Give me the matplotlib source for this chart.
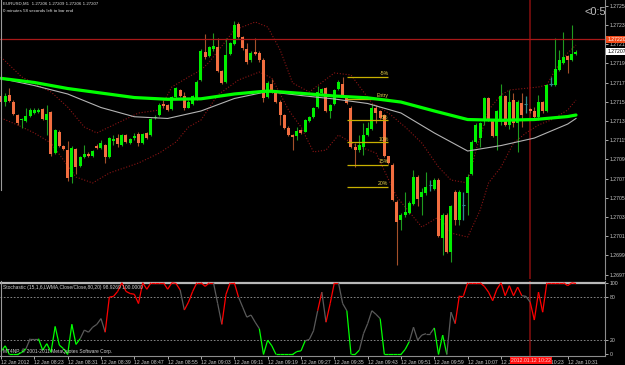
import numpy as np
import pandas as pd
import matplotlib
matplotlib.use("Agg")
import matplotlib.pyplot as plt
from matplotlib.collections import LineCollection

plt.rcParams['font.family'] = ['Liberation Sans', 'DejaVu Sans']

# EURUSD M1, 12 Jan 2012 from 08:15
start_time = "2012-01-12 08:15"
opens = [1.27161, 1.27155, 1.27162, 1.27155, 1.27141, 1.27136, 1.27135, 1.27140, 1.27143, 1.27144,
         1.27147, 1.27136, 1.27144, 1.27102, 1.27124, 1.27109, 1.27105, 1.27077, 1.27106, 1.27088,
         1.27097, 1.27101, 1.27098, 1.27109, 1.27107, 1.27110, 1.27097, 1.27114, 1.27117, 1.27110,
         1.27120, 1.27112, 1.27117, 1.27121, 1.27112, 1.27122, 1.27120, 1.27138, 1.27141, 1.27153,
         1.27152, 1.27147, 1.27160, 1.27167, 1.27161, 1.27149, 1.27153, 1.27158, 1.27178, 1.27207,
         1.27203, 1.27210, 1.27212, 1.27187, 1.27176, 1.27205, 1.27215, 1.27236, 1.27222, 1.27210,
         1.27198, 1.27207, 1.27206, 1.27199, 1.27160, 1.27174, 1.27164, 1.27155, 1.27141, 1.27128,
         1.27120, 1.27119, 1.27126, 1.27124, 1.27135, 1.27139, 1.27150, 1.27164, 1.27169, 1.27145,
         1.27153, 1.27168, 1.27174, 1.27160, 1.27149, 1.27108, 1.27105, 1.27108, 1.27120, 1.27127,
         1.27149, 1.27145, 1.27141, 1.27098, 1.27089, 1.27051, 1.27032, 1.27037, 1.27039, 1.27049,
         1.27077, 1.27056, 1.27060, 1.27068, 1.27064, 1.27073, 1.27013, 1.27037, 1.26999, 1.27061,
         1.27032, 1.27047, 1.27060, 1.27080, 1.27113, 1.27117, 1.27136, 1.27159, 1.27136, 1.27119,
         1.27136, 1.27161, 1.27131, 1.27157, 1.27133, 1.27154, 1.27153, 1.27147, 1.27145, 1.27139,
         1.27155, 1.27145, 1.27173, 1.27172, 1.27188, 1.27195, 1.27203, 1.27198, 1.27205]
highs = [1.27164, 1.27164, 1.27169, 1.27157, 1.27142, 1.27138, 1.27149, 1.27148, 1.27149, 1.27148,
         1.27149, 1.27152, 1.27145, 1.27127, 1.27126, 1.27110, 1.27114, 1.27109, 1.27107, 1.27098,
         1.27110, 1.27103, 1.27105, 1.27111, 1.27115, 1.27111, 1.27118, 1.27120, 1.27121, 1.27121,
         1.27121, 1.27117, 1.27122, 1.27124, 1.27122, 1.27123, 1.27138, 1.27141, 1.27154, 1.27157,
         1.27153, 1.27161, 1.27170, 1.27168, 1.27165, 1.27157, 1.27162, 1.27178, 1.27210, 1.27226,
         1.27213, 1.27227, 1.27221, 1.27188, 1.27221, 1.27217, 1.27239, 1.27238, 1.27224, 1.27216,
         1.27208, 1.27221, 1.27208, 1.27201, 1.27177, 1.27179, 1.27166, 1.27157, 1.27142, 1.27130,
         1.27121, 1.27129, 1.27127, 1.27137, 1.27140, 1.27150, 1.27171, 1.27169, 1.27170, 1.27153,
         1.27168, 1.27178, 1.27181, 1.27161, 1.27151, 1.27112, 1.27120, 1.27133, 1.27134, 1.27153,
         1.27152, 1.27146, 1.27142, 1.27099, 1.27091, 1.27053, 1.27039, 1.27061, 1.27052, 1.27084,
         1.27079, 1.27065, 1.27082, 1.27073, 1.27076, 1.27076, 1.27039, 1.27039, 1.27047, 1.27063,
         1.27063, 1.27061, 1.27080, 1.27115, 1.27133, 1.27134, 1.27160, 1.27160, 1.27137, 1.27146,
         1.27174, 1.27162, 1.27167, 1.27164, 1.27157, 1.27164, 1.27161, 1.27148, 1.27150, 1.27162,
         1.27156, 1.27174, 1.27181, 1.27221, 1.27209, 1.27228, 1.27204, 1.27235, 1.27209]
lows = [1.27151, 1.27151, 1.27155, 1.27141, 1.27131, 1.27128, 1.27134, 1.27139, 1.27142, 1.27143,
        1.27136, 1.27120, 1.27098, 1.27101, 1.27108, 1.27105, 1.27072, 1.27070, 1.27080, 1.27087,
        1.27096, 1.27097, 1.27097, 1.27106, 1.27106, 1.27091, 1.27096, 1.27110, 1.27108, 1.27109,
        1.27112, 1.27111, 1.27115, 1.27109, 1.27111, 1.27116, 1.27119, 1.27137, 1.27140, 1.27149,
        1.27145, 1.27146, 1.27159, 1.27160, 1.27146, 1.27148, 1.27152, 1.27157, 1.27177, 1.27200,
        1.27202, 1.27208, 1.27186, 1.27174, 1.27175, 1.27204, 1.27214, 1.27221, 1.27209, 1.27194,
        1.27196, 1.27204, 1.27196, 1.27155, 1.27159, 1.27164, 1.27154, 1.27131, 1.27127, 1.27119,
        1.27105, 1.27115, 1.27121, 1.27123, 1.27134, 1.27138, 1.27148, 1.27163, 1.27144, 1.27138,
        1.27152, 1.27167, 1.27160, 1.27153, 1.27107, 1.27087, 1.27103, 1.27100, 1.27119, 1.27126,
        1.27133, 1.27137, 1.27097, 1.27090, 1.27052, 1.26985, 1.27021, 1.27035, 1.27038, 1.27047,
        1.27046, 1.27037, 1.27058, 1.27062, 1.27063, 1.27014, 1.26995, 1.26997, 1.26988, 1.27027,
        1.27027, 1.27032, 1.27037, 1.27079, 1.27112, 1.27108, 1.27131, 1.27135, 1.27118, 1.27105,
        1.27131, 1.27130, 1.27127, 1.27129, 1.27103, 1.27129, 1.27143, 1.27143, 1.27138, 1.27136,
        1.27143, 1.27144, 1.27171, 1.27171, 1.27187, 1.27194, 1.27185, 1.27197, 1.27204]
closes = [1.27155, 1.27161, 1.27156, 1.27142, 1.27133, 1.27137, 1.27140, 1.27146, 1.27146, 1.27146,
          1.27137, 1.27142, 1.27101, 1.27126, 1.27109, 1.27106, 1.27076, 1.27107, 1.27087, 1.27097,
          1.27101, 1.27099, 1.27104, 1.27107, 1.27112, 1.27097, 1.27117, 1.27116, 1.27111, 1.27120,
          1.27113, 1.27116, 1.27119, 1.27112, 1.27121, 1.27117, 1.27137, 1.27139, 1.27152, 1.27151,
          1.27146, 1.27160, 1.27169, 1.27161, 1.27148, 1.27155, 1.27161, 1.27176, 1.27208, 1.27202,
          1.27212, 1.27213, 1.27187, 1.27175, 1.27204, 1.27216, 1.27235, 1.27222, 1.27211, 1.27196,
          1.27206, 1.27205, 1.27198, 1.27159, 1.27175, 1.27165, 1.27155, 1.27141, 1.27128, 1.27120,
          1.27118, 1.27125, 1.27122, 1.27136, 1.27139, 1.27148, 1.27165, 1.27168, 1.27145, 1.27152,
          1.27167, 1.27176, 1.27162, 1.27154, 1.27108, 1.27105, 1.27110, 1.27120, 1.27128, 1.27148,
          1.27143, 1.27138, 1.27098, 1.27091, 1.27053, 1.27030, 1.27037, 1.27040, 1.27050, 1.27077,
          1.27054, 1.27061, 1.27066, 1.27068, 1.27074, 1.27015, 1.27037, 1.26999, 1.27046, 1.27032,
          1.27061, 1.27047, 1.27077, 1.27113, 1.27131, 1.27133, 1.27159, 1.27136, 1.27119, 1.27145,
          1.27161, 1.27131, 1.27155, 1.27133, 1.27155, 1.27141, 1.27153, 1.27145, 1.27139, 1.27155,
          1.27145, 1.27172, 1.27173, 1.27189, 1.27199, 1.27202, 1.27198, 1.27205, 1.27207]

# moving averages (read at every 8th bar)
ma_bars = [0, 8, 16, 24, 32, 40, 48, 56, 64, 72, 80, 88, 96, 104, 112, 120, 128, 136, 138]
ma_slow = [1.271794, 1.271751, 1.271688, 1.271641, 1.271594, 1.271576, 1.271581, 1.271631, 1.271662,
           1.271638, 1.271610, 1.271591, 1.271547, 1.271454, 1.271365, 1.271357, 1.271365, 1.271396, 1.271412]
ma_fast = [1.271792, 1.271719, 1.271631, 1.271490, 1.271394, 1.271376, 1.271454, 1.271584, 1.271657,
           1.271615, 1.271579, 1.271532, 1.271433, 1.271225, 1.271037, 1.271094, 1.271172, 1.271318, 1.271376]

# dotted bands
upper_bars = [0, 5, 12, 16, 20, 23, 28, 33, 38, 41, 45, 48, 50, 56, 61, 64, 67, 70, 74, 80,
              84, 89, 93, 97, 101, 105, 108, 112, 114, 117, 120, 122, 129, 131, 133, 136, 138]
upper_band = [1.272016, 1.271808, 1.271652, 1.271495, 1.271287, 1.271225, 1.271329, 1.271433, 1.271464, 1.271704,
              1.271808, 1.271881, 1.271964, 1.272297, 1.272381, 1.272329, 1.272089, 1.271745, 1.271652, 1.271850,
              1.271829, 1.271537, 1.271433, 1.271287, 1.271120, 1.270870, 1.270735, 1.270704, 1.271047, 1.271464,
              1.271620, 1.271672, 1.271704, 1.271725, 1.271881, 1.272058, 1.272141]
lower_bars = [0, 4, 8, 12, 18, 22, 26, 33, 38, 42, 45, 48, 52, 57, 62, 65, 69, 72, 75, 78,
              81, 85, 90, 95, 101, 105, 108, 112, 115, 117, 120, 123, 126, 129, 132, 136, 138]
lower_band = [1.271381, 1.271308, 1.271225, 1.271120, 1.270766, 1.270704, 1.270808, 1.270912, 1.271016, 1.271131,
              1.271287, 1.271360, 1.271620, 1.271777, 1.271860, 1.271797, 1.271464, 1.271287, 1.271027, 1.271047,
              1.271204, 1.271100, 1.271016, 1.270558, 1.270245, 1.270350, 1.270183, 1.270141, 1.270422, 1.270704,
              1.270870, 1.271120, 1.271225, 1.271308, 1.271360, 1.271464, 1.271568]

# fibo levels drawn on the chart
fib_start, fib_end = 83, 93
fib_levels = [1.271813, 1.271584, 1.271355, 1.271126, 1.270896, 1.270667]
fib_labels = ["-5%", "Entry", "5%", "10%", "15%", "20%"]

# stochastic main line, and colour state of each segment (g=down zone, r=up, k=neutral)
stoch = [4, 12, 0, 0, 0, 3, 8, 22, 22, 22, 6, 15, 3, 39, 13, 8, 0, 42, 14, 22,
         34, 31, 38, 42, 50, 31, 80, 81, 88, 100, 88, 85, 84, 71, 100, 91, 100, 100, 100, 100,
         91, 100, 99, 90, 62, 73, 88, 100, 100, 95, 100, 100, 71, 42, 84, 100, 100, 80, 66, 52,
         55, 45, 36, 0, 20, 12, 0, 0, 0, 0, 0, 4, 5, 19, 21, 33, 61, 87, 45, 71,
         100, 100, 71, 61, 0, 0, 6, 29, 43, 61, 56, 50, 0, 0, 0, 0, 0, 7, 18, 38,
         20, 27, 29, 29, 37, 0, 27, 0, 59, 43, 82, 82, 100, 100, 100, 100, 95, 87, 75, 91,
         100, 82, 96, 82, 94, 82, 81, 73, 48, 87, 59, 100, 100, 100, 100, 100, 96, 100, 98.93]
stoch_state = ("-gggggg" + "kkk" + "gggggggggg" + "kkkkkk" + "r" * 18 + "k" + "rrrrrrr" + "kk" + "rrrr"
               + "kkkkk" + "g" * 11 + "kkk" + "r" + "k" + "rrr" + "kk" + "ggg" + "kkkkk" + "ggggggg"
               + "kkkkkk" + "ggg" + "kk" + "r" * 16 + "kk" + "r" * 11)

cursor_bar = 127
cursor_price = 1.27220
bid = 1.27207

bg = "black"
fs = 3.7
fig = plt.figure(figsize=(6.25, 3.65), dpi=100, facecolor=bg)
W, H = 625.0, 365.0
ax = fig.add_axes([0, 1 - 279 / H, 605 / W, 279 / H], facecolor=bg)
ax2 = fig.add_axes([0, 1 - 356 / H, 605 / W, 75 / H], facecolor=bg)

x = np.arange(len(opens))
o = np.array(opens); h = np.array(highs); l = np.array(lows); c = np.array(closes)
up = c > o
dn = c < o
dj = c == o

# bands and moving averages
ax.plot(upper_bars, upper_band, color="#8B1515", lw=0.8, ls=(0, (1, 1.6)), zorder=2)
ax.plot(lower_bars, lower_band, color="#8B1515", lw=0.8, ls=(0, (1, 1.6)), zorder=2)

# candles
ax.vlines(x[up], l[up], h[up], color="#1F9A1F", lw=0.8, zorder=3)
ax.vlines(x[dn], l[dn], h[dn], color="#A4502A", lw=0.8, zorder=3)
ax.vlines(x[dj], l[dj], h[dj], color="#2E8E8E", lw=0.9, zorder=3)
ax.bar(x[up], (c - o)[up], bottom=o[up], width=0.72, color="#00F000", lw=0, zorder=4)
ax.bar(x[dn], (c - o)[dn], bottom=o[dn], width=0.72, color="#F26E40", lw=0, zorder=4)
ax.hlines(o[dj], x[dj] - 0.36, x[dj] + 0.36, color="#2E8E8E", lw=0.8, zorder=4)

ax.plot(ma_bars, ma_fast, color="#B4B4B4", lw=0.8, zorder=5)

# fibo
ax.hlines(fib_levels, fib_start, fib_end, color="#C8B000", lw=0.9, zorder=5)
for lv, lb in zip(fib_levels, fib_labels):
    ax.text(fib_end, lv + 0.000008, lb, color="#E6D24A", fontsize=fs, ha="right", va="bottom", zorder=6)

ax.plot(ma_bars, ma_slow, color="#00FF00", lw=2.3, zorder=6, solid_capstyle="round")

# cursor lines
ax.axhline(cursor_price, color="#A81818", lw=0.9, zorder=7)
ax.axvline(cursor_bar, color="#6A0C0C", lw=1.4, zorder=1)
ax2.axvline(cursor_bar, color="#6A0C0C", lw=1.4, zorder=1)

ax.set_xlim(-0.24, 144.96)
ax.set_ylim(1.269704, 1.27261)

price_ticks = np.round(np.arange(1.26975, 1.27256, 0.0002), 5)
ax.yaxis.tick_right()
ax.set_yticks(price_ticks)
ax.set_yticklabels([f"{p:.5f}" for p in price_ticks])
ax.tick_params(axis="y", colors="#C8C8C8", labelsize=fs, length=2, width=0.6, pad=1)
ax.set_xticks([])
for s in ["top", "bottom", "left"]:
    ax.spines[s].set_visible(False)
ax.spines["right"].set_color("#8C8C8C")
ax.spines["right"].set_linewidth(0.8)

# price tags
ax.text(1.004, cursor_price, f"{cursor_price:.5f}", transform=ax.get_yaxis_transform(), fontsize=fs,
        color="white", ha="left", va="center",
        bbox=dict(boxstyle="square,pad=0.2", fc="#F04A1A", ec="none"), zorder=10, clip_on=False)
ax.text(1.004, bid, f"{bid:.5f}", transform=ax.get_yaxis_transform(), fontsize=fs,
        color="black", ha="left", va="center",
        bbox=dict(boxstyle="square,pad=0.2", fc="white", ec="none"), zorder=10, clip_on=False)

# header texts
ax.text(0.005, 0.995, "EURUSD,M1  1.27206 1.27209 1.27206 1.27207", transform=ax.transAxes,
        color="#E0E0E0", fontsize=3.2, ha="left", va="top")
ax.text(0.005, 0.968, "0 minutes 58 seconds left to bar end", transform=ax.transAxes,
        color="#E0E0E0", fontsize=3.2, ha="left", va="top")
ax.text(0.966, 0.975, "<0:58", transform=ax.transAxes, color="#BDBDBD", fontsize=8,
        ha="left", va="top", clip_on=True)

# stochastic panel
segs = [[(i - 1, stoch[i - 1]), (i, stoch[i])] for i in range(1, len(stoch))]
cmap = {"g": "#00FF00", "r": "#FF0000", "k": "#5A5A5A"}
cols = [cmap[s] for s in stoch_state[1:len(stoch)]]
ax2.add_collection(LineCollection(segs, colors=cols, linewidths=0.9, zorder=3))
for lvl in [20, 80]:
    ax2.axhline(lvl, color="#9A9A9A", lw=0.6, ls=(0, (2, 2)), zorder=1)
ax2.axhline(100, color="#B8B8B8", lw=1.6, zorder=2)
ax2.set_xlim(-0.24, 144.96)
ax2.set_ylim(-2.2, 102.5)
ax2.yaxis.tick_right()
ax2.set_yticks([0, 20, 80, 100])
ax2.tick_params(axis="y", colors="#C8C8C8", labelsize=fs, length=2, width=0.6, pad=1.5)

times = pd.date_range(start_time, periods=len(opens), freq="min")
tick_bars = list(range(0, len(opens), 8))
tick_labels = [times[i].strftime("%d %b %Y") if i == 0 else times[i].strftime("%d %b %H:%M") for i in tick_bars]
ax2.set_xticks(tick_bars)
ax2.set_xticklabels(tick_labels, ha="left")
ax2.tick_params(axis="x", colors="#C8C8C8", labelsize=fs, length=2, width=0.6, pad=1)
ax2.spines["top"].set_visible(False)
ax2.spines["left"].set_visible(False)
for s in ["right", "bottom"]:
    ax2.spines[s].set_color("#8C8C8C")
    ax2.spines[s].set_linewidth(0.8)

ax2.text(0.005, 0.94, "Stochastic (15,1,6,LWMA,Close/Close,80,20) 98.9269 100.0000", transform=ax2.transAxes,
         color="#D0D0D0", fontsize=3.5, ha="left", va="top")
ax2.text(0.005, 0.02, "MT4NP, \u00a9 2001-2011 MetaQuotes Software Corp.", transform=ax2.transAxes,
         color="#D0D0D0", fontsize=3.5, ha="left", va="bottom")
ax2.text(cursor_bar + 0.3, -0.03, times[cursor_bar].strftime("%Y.%m.%d %H:%M"),
         transform=ax2.get_xaxis_transform(), color="#FFD0D0", fontsize=fs, ha="center", va="top",
         bbox=dict(boxstyle="square,pad=0.2", fc="#FF1010", ec="none"), zorder=10, clip_on=False)

# left edge line
fig.add_artist(plt.Line2D([1.2 / W, 1.2 / W], [1 - 190 / H, 1.0], color="#9A9A9A", lw=0.8))
fig.add_artist(plt.Line2D([1.2 / W, 1.2 / W], [1 - 356 / H, 1 - 281 / H], color="#9A9A9A", lw=0.8))

fig.savefig("out.png", dpi=100, facecolor=bg)
